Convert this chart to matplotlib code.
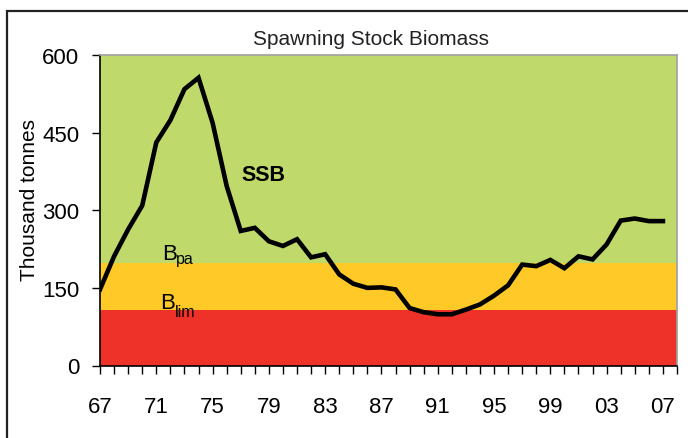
import matplotlib
matplotlib.use("Agg")
import matplotlib.pyplot as plt
from matplotlib.patches import Rectangle
from matplotlib.ticker import FixedLocator, FuncFormatter

plt.rcParams['font.family'] = ['Liberation Sans', 'DejaVu Sans']

years = list(range(1967, 2008))
ssb = [147, 211, 263, 309, 431, 474, 534, 556, 469, 347,
       260, 266, 240, 231, 244, 209, 215, 176, 158, 150,
       151, 147, 111, 103, 99, 99, 108, 118, 135, 155,
       195, 192, 204, 188, 211, 205, 234, 280, 284, 279, 279]
b_pa = 198
b_lim = 107
y_max = 600
y_ticks = [0, 150, 300, 450, 600]
x_label_years = list(range(1967, 2008, 4))

W, H = 688, 439
fig = plt.figure(figsize=(W / 100, H / 100), dpi=100)
ax = fig.add_axes([100 / W, 1 - 366.5 / H, 577 / W, 310.5 / H])

green = '#BFD96B'
yellow = '#FFC928'
red = '#EE3229'
ax.axhspan(0, b_lim, color=red, lw=0, zorder=0)
ax.axhspan(b_lim, b_pa, color=yellow, lw=0, zorder=0)
ax.axhspan(b_pa, y_max, color=green, lw=0, zorder=0)

ax.plot(years, ssb, color='black', lw=3.3, solid_joinstyle='miter', zorder=3)

ax.set_xlim(1967, 2008)
ax.set_ylim(0, y_max)

ax.xaxis.set_major_locator(FixedLocator(list(range(1967, 2009))))
ax.xaxis.set_major_formatter(FuncFormatter(
    lambda v, p: f"{int(round(v)) % 100:02d}" if int(round(v)) in x_label_years else ""))
ax.set_yticks(y_ticks)

ax.tick_params(axis='x', direction='out', length=6, width=1, color='black',
               labelsize=16, pad=16)
ax.tick_params(axis='y', direction='out', length=6, width=1, color='black',
               labelsize=16, pad=9)

for side in ['left', 'bottom']:
    ax.spines[side].set_color('black')
    ax.spines[side].set_linewidth(1.2)
for side in ['top', 'right']:
    ax.spines[side].set_color('#A0A0A0')
    ax.spines[side].set_linewidth(1.2)

fig.text(29.5 / W, 1 - 200 / H, 'Thousand tonnes', rotation=90, ha='center',
         va='center', fontsize=15)
fig.text(371 / W, 1 - 45 / H, 'Spawning Stock Biomass', ha='center',
         va='baseline', fontsize=15, color='#222222')

ax.text(1978.6, 370, 'SSB', fontsize=15.5, fontweight='bold', ha='center',
        va='center', zorder=4)

ax.text(1971.4, 206, 'B', fontsize=16, ha='left', va='baseline', zorder=4)
ax.annotate('pa', xy=(1971.4, 206), xycoords='data', xytext=(10.4, -2.8),
            textcoords='offset points', fontsize=11.5, ha='left',
            va='baseline', zorder=4)
ax.text(1971.3, 112, 'B', fontsize=16, ha='left', va='baseline', zorder=4)
ax.annotate('lim', xy=(1971.3, 112), xycoords='data', xytext=(10.4, -6),
            textcoords='offset points', fontsize=11.5, ha='left',
            va='baseline', zorder=4)

frame = Rectangle((7.3 / W, -0.2), 1.5, (1 - 11.7 / H) + 0.2,
                  transform=fig.transFigure, fill=False, edgecolor='#222222',
                  lw=1.6, clip_on=False)
fig.patches.append(frame)

fig.savefig('out.png', dpi=100)
